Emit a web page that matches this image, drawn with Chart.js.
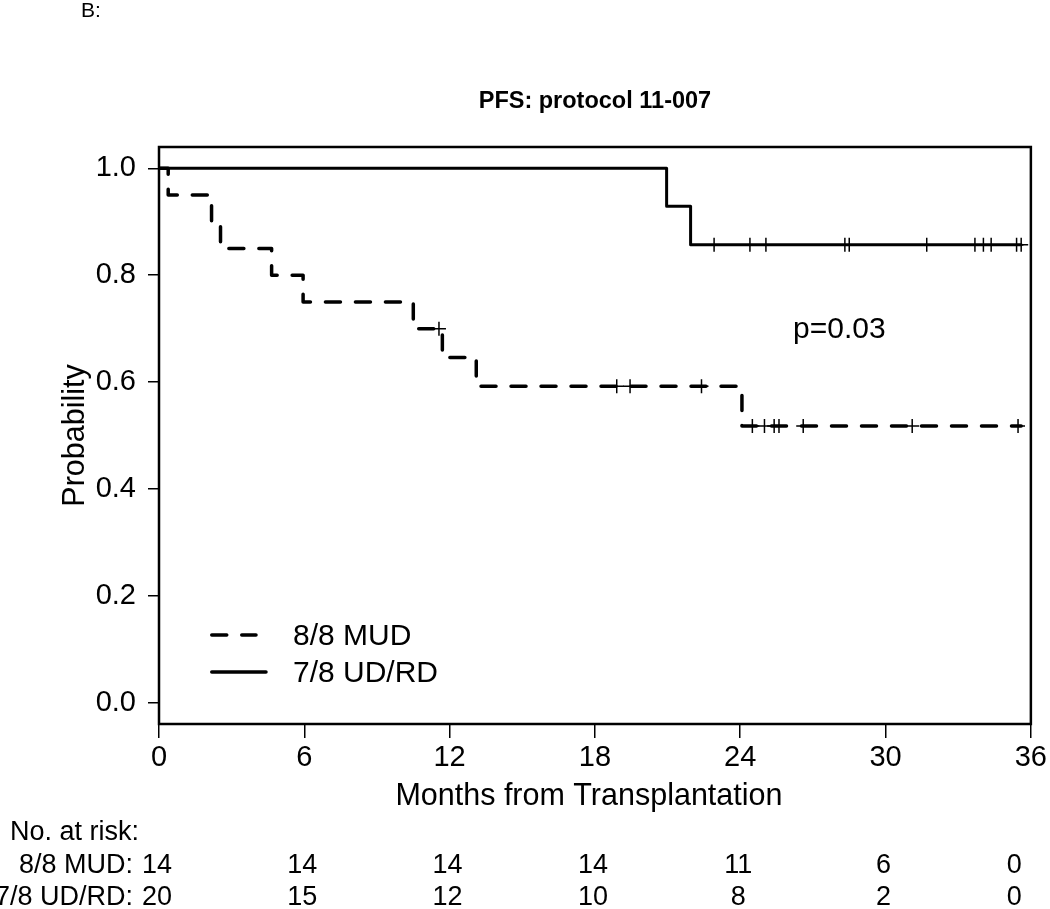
<!DOCTYPE html>
<html><head><meta charset="utf-8">
<script src="https://cdn.jsdelivr.net/npm/chart.js@4.4.1/dist/chart.umd.min.js"></script>
<style>html,body{margin:0;padding:0;background:#fff;}#wrap{width:1050px;height:909px;position:relative;}</style>
</head><body><div id="wrap"><canvas id="c"></canvas></div>
<script>
// ---- data ----
const xTicks = [0, 6, 12, 18, 24, 30, 36];
const yTicks = [0, 0.2, 0.4, 0.6, 0.8, 1.0];
const yTickLabels = ['0.0', '0.2', '0.4', '0.6', '0.8', '1.0'];
const groupNames = ['8/8 MUD', '7/8 UD/RD'];

// dashed curve (8/8 MUD in legend)
const mudTimes = [0, 0.38, 2.17, 2.54, 4.65, 5.95, 10.5, 11.7, 13.1, 24.07, 35.6];
const mudSurv  = [1.0, 0.95, 0.90, 0.85, 0.80, 0.75, 0.70, 0.646, 0.592, 0.518, 0.518];
const mudCensorTimes = [11.56, 18.9, 19.45, 22.4, 24.5, 25.0, 25.4, 25.6, 26.6, 31.1, 35.47];
const mudCensorSurv  = [0.70, 0.592, 0.592, 0.592, 0.518, 0.518, 0.518, 0.518, 0.518, 0.518, 0.518];

// solid curve (7/8 UD/RD in legend)
const udTimes = [0, 20.96, 21.95, 35.6];
const udSurv  = [1.0, 0.929, 0.857, 0.857];
const udCensorTimes = [22.92, 24.4, 25.06, 28.32, 28.5, 31.7, 33.69, 34.04, 34.36, 35.41, 35.6];
const udCensorSurv  = [0.857, 0.857, 0.857, 0.857, 0.857, 0.857, 0.857, 0.857, 0.857, 0.857, 0.857];

// numbers at risk
const riskTimes = [0, 6, 12, 18, 24, 30, 36];
const riskMUD = [14, 14, 14, 14, 11, 6, 0];
const riskUD  = [20, 15, 12, 10, 8, 2, 0];

const titleText = 'PFS: protocol 11-007';
const xTitle = 'Months from Transplantation';
const yTitle = 'Probability';
const pText = 'p=0.03';
const panelLabel = 'B:';
const riskHeader = 'No. at risk:';

// ---- drawing ----
const FONT = "'Liberation Sans', Arial, Helvetica, sans-serif";
const pts = (xs, ys) => xs.map((t, i) => ({x: t, y: ys[i]}));
const DASH = [15, 15];

const bgPlugin = {
  id: 'bg',
  beforeDraw(chart) {
    const c = chart.ctx;
    c.save(); c.fillStyle = '#fff'; c.fillRect(0, 0, chart.width, chart.height); c.restore();
  }
};

function txt(c, s, x, y, font, align, base) {
  c.font = font; c.textAlign = align || 'left'; c.textBaseline = base || 'alphabetic';
  c.fillStyle = '#000'; c.fillText(s, x, y);
}

const textPlugin = {
  id: 'texts',
  afterDraw(chart) {
    const c = chart.ctx, a = chart.chartArea, xs = chart.scales.x;
    c.save();
    // box
    c.strokeStyle = '#000'; c.lineWidth = 2.5; c.setLineDash([]);
    c.strokeRect(a.left, a.top, a.right - a.left, a.bottom - a.top);
    // panel label
    txt(c, panelLabel, 81, 17, '21px ' + FONT, 'left');
    // title
    txt(c, titleText, (a.left + a.right) / 2, 108, 'bold 23.5px ' + FONT, 'center');
    // axis titles
    txt(c, xTitle, (a.left + a.right) / 2 - 6, 805, '30.5px ' + FONT, 'center');
    c.save(); c.translate(84, (a.top + a.bottom) / 2); c.rotate(-Math.PI / 2);
    txt(c, yTitle, 0, 0, '30.5px ' + FONT, 'center'); c.restore();
    // p value
    txt(c, pText, 793, 338, '30px ' + FONT, 'left');
    // legend
    c.lineCap = 'round';
    c.strokeStyle = '#000';
    c.lineWidth = 3.5; c.setLineDash(DASH);
    c.beginPath(); c.moveTo(211.75, 635); c.lineTo(256, 635); c.stroke();
    c.setLineDash([]); c.lineWidth = 3.5;
    c.beginPath(); c.moveTo(211.75, 672); c.lineTo(266, 672); c.stroke();
    txt(c, groupNames[0], 293, 645, '30px ' + FONT, 'left');
    txt(c, groupNames[1], 293, 682, '30px ' + FONT, 'left');
    // risk table
    const rf = '27px ' + FONT;
    txt(c, riskHeader, 10, 840, rf, 'left');
    txt(c, groupNames[0] + ':', 133, 873, rf, 'right');
    txt(c, groupNames[1] + ':', 133, 905, rf, 'right');
    riskTimes.forEach((t, i) => {
      const px = xs.getPixelForValue(t) - 2;
      [[riskMUD[i], 873], [riskUD[i], 905]].forEach(([v, y]) => {
        const s = String(v);
        c.font = rf;
        const w = c.measureText(s).width;
        let cx = px;
        if (cx + w / 2 > a.right - 9) cx = a.right - 9 - w / 2;
        txt(c, s, cx, y, rf, 'center');
      });
    });
    c.restore();
  }
};

new Chart(document.getElementById('c'), {
  type: 'line',
  data: {
    datasets: [
      {
        label: groupNames[1], data: pts(udTimes, udSurv),
        borderColor: '#000', borderWidth: 3, stepped: true, pointRadius: 0,
        borderCapStyle: 'round', borderJoinStyle: 'round', fill: false, order: 1
      },
      {
        label: groupNames[0], data: pts(mudTimes, mudSurv),
        borderColor: '#000', borderWidth: 3.5, borderDash: DASH, stepped: true, pointRadius: 0,
        borderCapStyle: 'round', borderJoinStyle: 'round', fill: false, order: 2
      },
      {
        type: 'scatter', label: 'censor ' + groupNames[0], data: pts(mudCensorTimes, mudCensorSurv),
        pointStyle: 'cross', pointRadius: 7, pointBorderWidth: 1.5, borderColor: '#000', backgroundColor: '#000', showLine: false, order: 0
      },
      {
        type: 'scatter', label: 'censor ' + groupNames[1], data: pts(udCensorTimes, udCensorSurv),
        pointStyle: 'cross', pointRadius: 7, pointBorderWidth: 1.5, borderColor: '#000', backgroundColor: '#000', showLine: false, order: 0
      }
    ]
  },
  options: {
    responsive: true, maintainAspectRatio: false, animation: false,
    layout: {padding: {top: 147, right: 19, left: 0, bottom: 0}},
    plugins: {legend: {display: false}, tooltip: {enabled: false}, title: {display: false}},
    scales: {
      x: {
        type: 'linear', min: 0, max: 36,
        afterBuildTicks: s => { s.ticks = xTicks.map(v => ({value: v})); },
        afterFit: s => { s.height = 185; },
        grid: {display: true, drawOnChartArea: false, drawTicks: true, tickLength: 14, color: '#000', lineWidth: 1.5},
        border: {display: false},
        ticks: {font: {family: FONT, size: 29}, color: '#000', padding: 3, maxRotation: 0, autoSkip: false,
                callback: (v, i) => String(xTicks[i])}
      },
      y: {
        type: 'linear', min: -0.04, max: 1.04,
        afterBuildTicks: s => { s.ticks = yTicks.map(v => ({value: v})); },
        afterFit: s => { s.width = 159; },
        grid: {display: true, drawOnChartArea: false, drawTicks: true, tickLength: 11, color: '#000', lineWidth: 1.5},
        border: {display: false},
        ticks: {font: {family: FONT, size: 29}, color: '#000', padding: 12, autoSkip: false,
                callback: (v, i) => yTickLabels[i]}
      }
    }
  },
  plugins: [bgPlugin, textPlugin]
});
</script>
</body></html>
